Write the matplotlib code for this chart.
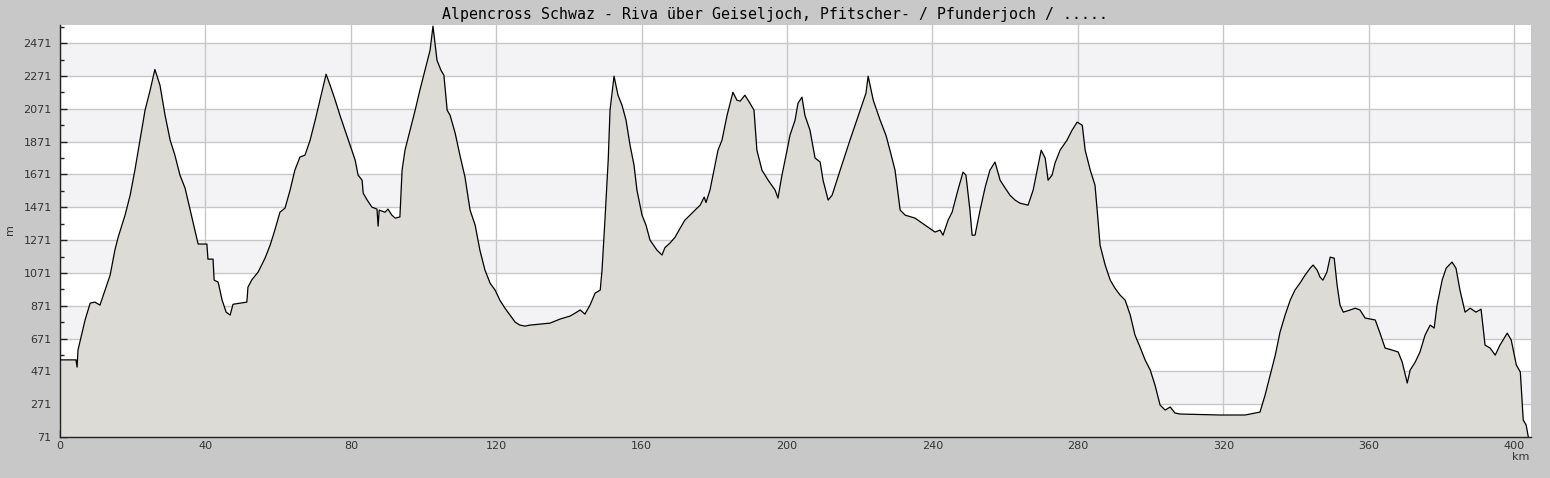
import numpy as np
import matplotlib.pyplot as plt
from matplotlib.ticker import MultipleLocator, FixedLocator

title = "Alpencross Schwaz - Riva über Geiseljoch, Pfitscher- / Pfunderjoch / ....."

# distance (km) and elevation (m)
km = [0.0, 4.4, 4.7, 4.95, 6.9, 8.3, 9.6, 11.0, 12.4, 13.8, 15.1, 16.0, 17.9, 19.3,
      20.6, 22.0, 23.4, 24.8, 26.1, 27.5, 28.9, 30.3, 31.6, 33.0, 34.4, 35.8, 37.1,
      38.0, 40.4, 40.7, 42.1, 42.4, 43.5, 44.6, 45.7, 46.8, 47.6, 51.4, 51.7, 52.8,
      54.5, 56.4, 57.8, 59.1, 60.5, 61.9, 63.3, 64.6, 66.0, 67.4, 68.8, 70.2, 71.5,
      73.2, 74.3, 75.7, 77.0, 78.4, 79.8, 81.2, 82.0, 83.1, 83.4, 84.5, 85.8, 87.2,
      87.5, 87.8, 89.4, 90.2, 91.3, 92.2, 93.5, 94.1, 94.9, 96.3, 97.7, 99.0, 100.4,
      101.8, 102.6, 103.7, 104.8, 105.6, 106.5, 107.3, 108.7, 110.0, 111.4, 112.8,
      114.2, 115.5, 116.9, 118.3, 119.7, 121.0, 122.4, 123.8, 125.2, 126.5, 127.9,
      129.3, 132.0, 134.8, 137.6, 140.3, 141.7, 143.1, 144.4, 145.8, 147.2, 148.6,
      149.1, 149.9, 150.8, 151.3, 152.4, 153.5, 154.6, 155.7, 156.8, 157.9, 158.7,
      160.1, 161.2, 162.3, 164.2, 165.6, 166.4, 167.8, 169.2, 170.6, 171.9, 173.3,
      174.7, 176.1, 177.2, 177.7, 178.8, 179.9, 181.0, 182.1, 183.5, 185.1, 186.2,
      187.1, 188.4, 189.8, 190.9, 191.7, 193.1, 194.8, 196.7, 197.5, 198.6, 200.0,
      200.8, 202.2, 203.0, 204.1, 204.9, 206.3, 207.7, 209.1, 209.9, 211.3, 212.4,
      214.6, 217.3, 220.1, 221.7, 222.3, 223.7, 225.6, 227.2, 228.3, 229.7, 231.1,
      232.5, 235.2, 238.0, 240.7, 242.1, 242.9, 244.3, 245.4, 247.0, 248.4, 249.2,
      250.3, 250.9, 251.7, 253.1, 254.5, 255.8, 257.2, 258.6, 260.0, 261.3, 262.7,
      264.1, 266.3, 267.7, 268.8, 269.9, 271.0, 271.8, 272.9, 273.7, 275.1, 277.0,
      278.4, 279.8, 281.2, 282.0, 283.4, 284.7, 285.3, 286.1, 287.5, 288.9, 290.2,
      291.6, 293.0, 294.4, 295.7, 297.1, 298.5, 299.9, 301.2, 302.6, 304.0, 305.4,
      306.7, 308.1, 319.1, 326.0, 327.4, 330.1, 331.5, 332.9, 334.3, 335.6, 337.0,
      338.4, 339.7, 341.1, 342.5, 343.9, 344.7, 345.8, 346.6, 347.4, 348.5, 349.4,
      350.5, 351.3, 352.1, 353.0, 354.9, 356.3, 357.6, 359.0, 361.8, 363.1, 364.5,
      366.4, 368.1, 369.2, 370.6, 371.4, 372.8, 374.1, 375.5, 376.9, 378.0, 378.8,
      380.2, 381.3, 382.9, 384.0, 385.1, 386.5, 387.9, 389.5, 390.9, 392.0, 393.4,
      394.8, 396.1, 398.1, 399.2, 400.6, 401.7, 402.5, 403.3, 403.9]

elev = [541, 541, 497, 601, 784, 887, 893, 875, 966, 1058, 1210, 1289, 1423, 1545,
        1697, 1880, 2063, 2185, 2311, 2215, 2032, 1880, 1789, 1667, 1588, 1454, 1332,
        1247, 1247, 1155, 1155, 1027, 1015, 905, 832, 814, 880, 893, 984, 1030,
        1076, 1161, 1240, 1332, 1441, 1466, 1576, 1697, 1777, 1789, 1880, 2002, 2124,
        2282, 2215, 2124, 2032, 1941, 1850, 1758, 1667, 1636, 1557, 1515, 1472, 1460,
        1356, 1454, 1441, 1460, 1423, 1405, 1412, 1697, 1819, 1941, 2063, 2185, 2306,
        2428, 2575, 2367, 2306, 2276, 2063, 2032, 1923, 1789, 1655, 1454,
        1362, 1210, 1088, 1009, 966, 905, 856, 814, 771, 753, 747,
        753, 759, 765, 790, 808, 826, 845, 820, 875, 948, 966,
        1088, 1393, 1758, 2063, 2270, 2154, 2093, 2002, 1850, 1728, 1576,
        1423, 1362, 1271, 1210, 1180, 1225, 1253, 1289, 1344, 1393, 1423,
        1454, 1484, 1533, 1500, 1576, 1697, 1819, 1880, 2032, 2172, 2124,
        2118, 2154, 2105, 2063, 1819, 1697, 1636, 1576, 1527, 1667, 1819,
        1910, 2002, 2105, 2142, 2032, 1941, 1771, 1747, 1636, 1515, 1545,
        1697, 1880, 2063, 2166, 2270, 2124, 2002, 1910, 1819, 1697, 1454,
        1423, 1405, 1362, 1320, 1332, 1301, 1393, 1441, 1576, 1685, 1667,
        1454, 1301, 1301, 1454, 1594, 1697, 1747, 1636, 1588, 1545, 1515,
        1496, 1484, 1576, 1697, 1819, 1771, 1636, 1667, 1740, 1819, 1880,
        1941, 1990, 1971, 1819, 1697, 1606, 1454, 1240, 1119, 1027, 978,
        936, 905, 814, 692, 619, 540, 479, 388, 266, 235, 254,
        217, 211, 205, 205, 211, 223, 327, 449, 570, 710, 814,
        905, 966, 1009, 1058, 1100, 1119, 1088, 1046, 1027, 1076, 1167,
        1161, 997, 875, 832, 845, 856, 845, 796, 784, 704, 613,
        601, 589, 528, 400, 479, 528, 589, 692, 753, 735, 875,
        1027, 1100, 1137, 1100, 966, 832, 856, 832, 850, 631, 613,
        570, 631, 704, 662, 510, 467, 175, 144, 71]

y_ticks = [71, 271, 471, 671, 871, 1071, 1271, 1471, 1671, 1871, 2071, 2271, 2471]
x_ticks = [0, 40, 80, 120, 160, 200, 240, 280, 320, 360, 400]

fig = plt.figure(figsize=(15.5, 4.78), dpi=100, facecolor='#c8c8c8')
ax = fig.add_axes([60 / 1550, 41 / 478, 1470.5 / 1550, 412 / 478])
ax.set_facecolor('white')

# alternating bands
for lo, hi in zip(y_ticks[1::2], y_ticks[2::2]):
    ax.axhspan(lo, hi, color='#f3f2f5', zorder=0, lw=0)
ax.grid(True, color='#c8c8c8', lw=1, zorder=1)
ax.set_axisbelow(True)

ax.fill_between(km, elev, 71, color='#dcdbd6', lw=0, zorder=2)
ax.plot(km, elev, color='black', lw=0.9, zorder=3)

ax.set_xlim(0, 404.5)
ax.set_ylim(71, 2582)
ax.set_xticks(x_ticks)
ax.set_yticks(y_ticks)
ax.xaxis.set_minor_locator(MultipleLocator(20))
ax.yaxis.set_minor_locator(FixedLocator(np.arange(171, 2582, 200)))
ax.tick_params(which='major', direction='in', length=5, width=1, labelsize=8,
               labelcolor='#333333', color='#222222')
ax.tick_params(which='minor', direction='in', length=3, width=1, color='#222222')
ax.tick_params(axis='x', pad=3)
ax.tick_params(axis='y', pad=6)

for s in ['top', 'right']:
    ax.spines[s].set_visible(False)
for s in ['left', 'bottom']:
    ax.spines[s].set_color('#222222')
    ax.spines[s].set_linewidth(1)

fig.text(775 / 1550, 1 - 14 / 478, title, ha='center', va='center',
         family='DejaVu Sans Mono', fontsize=10.75, color='black')
fig.text(10 / 1550, 1 - 230 / 478, 'm', rotation=90, ha='center', va='center',
         fontsize=8, color='#333333')
fig.text(1521 / 1550, 1 - 457 / 478, 'km', ha='center', va='center',
         fontsize=8, color='#333333')

fig.savefig('out.png', dpi=100, facecolor=fig.get_facecolor())
